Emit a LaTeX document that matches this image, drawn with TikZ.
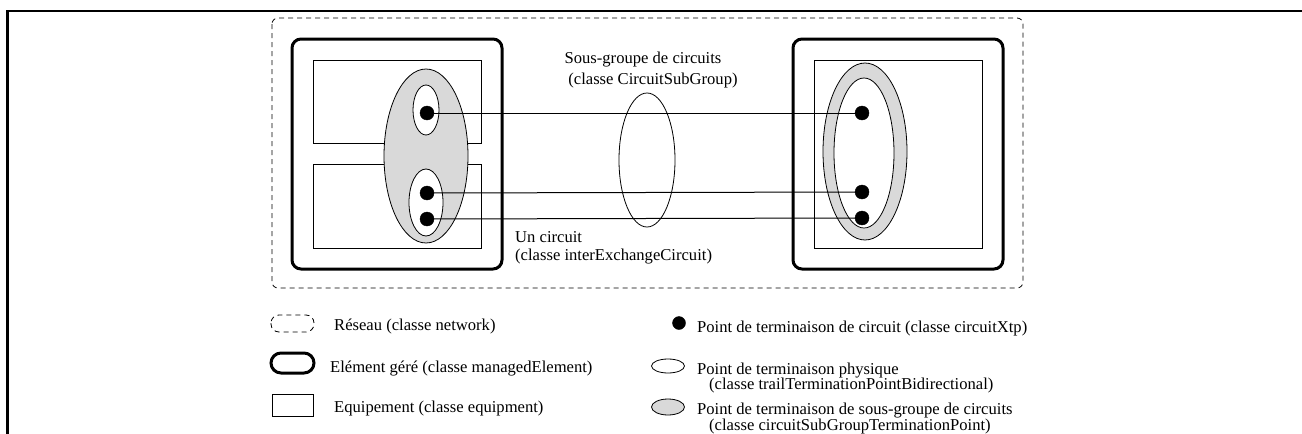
\documentclass[tikz,border=0pt]{standalone}
\usepackage{fontspec}
\setmainfont{Liberation Serif}
\usetikzlibrary{shapes.geometric}
\begin{document}
\begin{tikzpicture}[x=1pt,y=-1pt,
  lbl/.style={inner sep=0pt, anchor=base west, font=\fontsize{16.6}{19}\selectfont},
  clbl/.style={inner sep=0pt, anchor=base, font=\fontsize{16.6}{19}\selectfont},
  dot/.style={circle, fill=black, draw=black, inner sep=0pt, minimum size=14pt},
  melem/.style={draw=black, line width=3pt, rounded corners=9pt},
  equip/.style={draw=black, line width=0.9pt},
  net/.style={draw=black, line width=0.8pt, dash pattern=on 5pt off 4pt, rounded corners=6pt},
  tpgray/.style={fill=gray!30, draw=black, line width=0.8pt},
  tpwhite/.style={fill=white, draw=black, line width=0.8pt},
  wire/.style={draw=black, line width=1pt},
]
\useasboundingbox (0,0) rectangle (1302,434);
% frame
\draw[line width=2.5pt] (7.5,434) -- (7.5,11) -- (1302,11);
% network
\draw[net] (272,18) rectangle (1023,288);
% managed elements
\draw[melem] (292,39) rectangle (502,269);
\draw[melem] (793,39) rectangle (1003,269);
% equipments
\draw[equip] (313,60) rectangle (481,143);
\draw[equip] (313,164) rectangle (481,248);
\draw[equip] (814,60) rectangle (982,248);
% left termination points
\draw[tpgray] (426,156) ellipse [x radius=42pt, y radius=87pt];
\draw[tpwhite] (426,110) ellipse [x radius=13pt, y radius=25pt];
\draw[tpwhite] (426,202.5) ellipse [x radius=17pt, y radius=33.5pt];
% right termination points
\draw[tpgray] (865,151.5) ellipse [x radius=42pt, y radius=88.5pt];
\draw[tpwhite] (864,153) ellipse [x radius=30pt, y radius=75pt];
% circuit sub group
\draw[line width=0.8pt] (647,160) ellipse [x radius=28pt, y radius=67pt];
% dots
\node[dot] (l1) at (427,113) {};
\node[dot] (l2) at (427,193) {};
\node[dot] (l3) at (427,219) {};
\node[dot] (r1) at (862,113) {};
\node[dot] (r2) at (862,192) {};
\node[dot] (r3) at (862,218) {};
\draw[wire] (l1) -- (r1);
\draw[wire] (l2) -- (r2);
\draw[wire] (l3) -- (r3);
% labels
\node[clbl] (sg1) at (643,63) {Sous-groupe de circuits};
\node[clbl] (sg2) at (653,84) {(classe CircuitSubGroup)};
\node[lbl] (uc1) at (515,242) {Un circuit};
\node[lbl] (uc2) at (515,260) {(classe interExchangeCircuit)};
% legend left
\draw[net, rounded corners=8pt] (271,315) rectangle (314,332);
\node[lbl] (lg1) at (334,330) {Réseau (classe network)};
\draw[melem, rounded corners=10pt] (271,353) rectangle (314,373);
\node[lbl] (lg2) at (330,372) {Elément géré (classe managedElement)};
\draw[equip] (272,394) rectangle (313,416);
\node[lbl] (lg3) at (334,412) {Equipement (classe equipment)};
% legend right
\node[dot, minimum size=13pt] (ld) at (679,323) {};
\node[lbl] (lg4) at (697,332) {Point de terminaison de circuit (classe circuitXtp)};
\draw[tpwhite] (668,366) ellipse [x radius=16.5pt, y radius=7pt];
\node[lbl] (lg5) at (697,374) {Point de terminaison physique};
\node[lbl] (lg6) at (709,389) {(classe trailTerminationPointBidirectional)};
\draw[tpgray] (668,407) ellipse [x radius=16.5pt, y radius=8pt];
\node[lbl] (lg7) at (697,414) {Point de terminaison de sous-groupe de circuits};
\node[lbl] (lg8) at (709,430) {(classe circuitSubGroupTerminationPoint)};
\end{tikzpicture}
\end{document}
